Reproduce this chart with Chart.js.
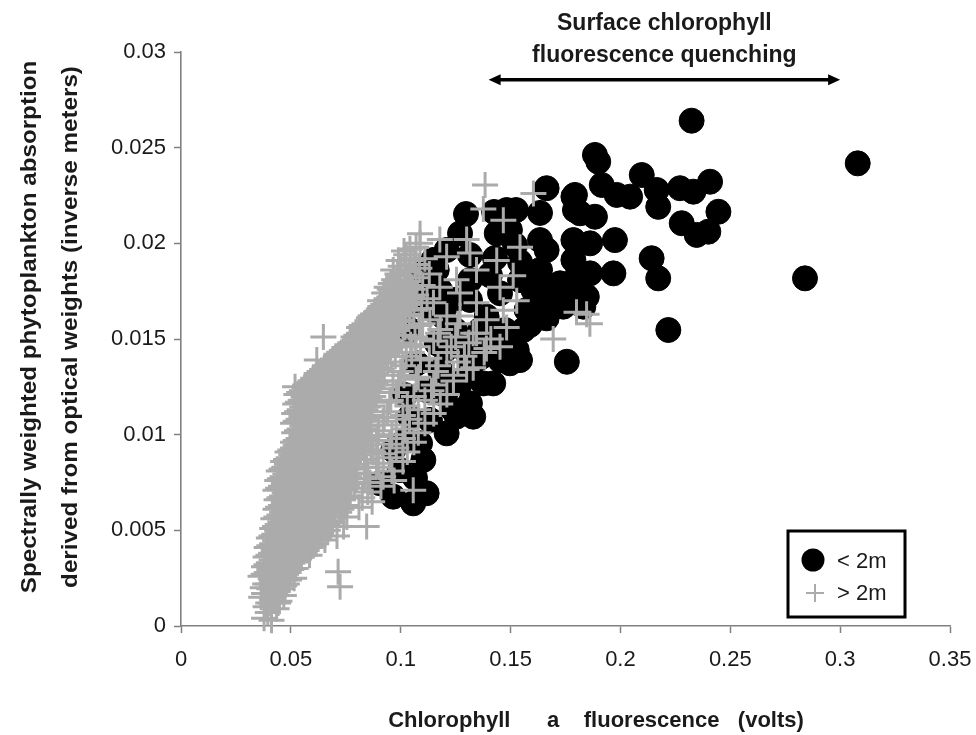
<!DOCTYPE html>
<html>
<head>
<meta charset="utf-8">
<title>Phytoplankton absorption vs chlorophyll fluorescence</title>
<script src="https://cdn.jsdelivr.net/npm/chart.js@4.4.1/dist/chart.umd.min.js"></script>
<style>
    html, body { margin: 0; padding: 0; background: #ffffff; }
    #wrap { width: 976px; height: 735px; }
</style>
</head>
<body>
<div id="wrap"><canvas id="quenchChart" width="976" height="735"></canvas></div>
<script>
// Series labels
const seriesNames = ['< 2m', '> 2m'];

// Axis titles
const xTitle = 'Chlorophyll      a    fluorescence   (volts)';
const yTitle = ['Spectrally weighted phytoplankton absorption', 'derived from optical weights (inverse meters)'];

// Annotation above the plot
const quenchText = ['Surface chlorophyll', 'fluorescence quenching'];
const quenchRange = [0.14, 0.30];
const quenchY = 0.02855;

// Axis ranges
const xRange = [0, 0.35];
const yRange = [0, 0.03];
const xStep = 0.05;
const yStep = 0.005;

// Samples shallower than 2 m: [fluorescence (volts), absorption (1/m)]
const shallow = [
    [.2324,.02641],[.308,.02418],[.1884,.02462],[.1899,.02427],[.1664,.02288],[.1793,.02253],
    [.1915,.02305],[.1983,.02253],[.2044,.02244],[.2097,.02357],[.2165,.02279],[.2172,.02191],
    [.2271,.02288],[.2332,.0227],[.2408,.02322],[.2446,.02165],[.2279,.02105],[.2347,.02044],
    [.24,.02061],[.284,.01817],[.2218,.01547],[.2142,.01922],[.2172,.01817],[.1975,.02017],
    [.1968,.01843],[.1793,.02174],[.1884,.02139],[.1786,.02017],[.1862,.02],[.1664,.01965],
    [.1786,.01913],[.1862,.01843],[.1695,.01773],[.1816,.01739],[.1831,.01669],[.1664,.01608],
    [.1634,.02159],[.1297,.02153],[.1425,.02164],[.1525,.02174],[.1497,.0207],[.1786,.02244],
    [.1816,.02157],[.127,.02052],[.1437,.02052],[.1634,.02017],[.1209,.01965],[.1103,.01843],
    [.1148,.01913],[.1725,.01791],[.1801,.01826],[.1847,.01721],[.1558,.01547],[.1528,.01443],
    [.1497,.01373],[.1391,.01443],[.1421,.01268],[.1315,.01164],[.133,.01094],[.1209,.01007],
    [.1103,.00868],[.1118,.00694],[.1057,.00641],[.0966,.00676],[.0997,.00815],[.127,.01268],
    [.1239,.01129],[.1391,.01617],[.1452,.01739],[.1315,.01704],[.1179,.01756],[.1194,.01617],
    [.1164,.01478],[.1073,.01373],[.1118,.01233],[.1042,.01094],[.1088,.00955],[.0966,.0092],
    [.0906,.00746],[.1604,.01756],[.1573,.01652],[.174,.01669],[.1756,.01381],[.1452,.0139],
    [.1543,.0139],[.1376,.01268],[.171,.01739],[.1164,.01861],[.1133,.01721],[.1073,.01687],
    [.1148,.01652],[.1482,.02174],[.1042,.01547],[.1247,.01547],[.1361,.01547],[.1475,.01547],
    [.1202,.01443],[.1293,.01443],[.1179,.01338],[.1315,.01338],[.102,.01207],[.1202,.01207],
    [.1133,.01077],[.102,.00972],[.1065,.00774],[.1247,.01704],[.1315,.01808],[.1406,.01834],
    [.1543,.01808],[.1634,.01861],[.1315,.01939],[.1429,.01923],[.1543,.01902],[.152,.01991],
    [.1656,.01704],[.1588,.01573],[.1452,.01495],[.1605,.01845],[.1365,.01405],[.1255,.01095]
];

// Samples deeper than 2 m: [fluorescence (volts), absorption (1/m)]
const deep = [
    [.0378,.0004],[.0395,.0007],[.0412,.0003],
    [.0385,.0010],[.041,.0012],[.0435,.0009],[.0448,.0013],
    [.0365,.0015],[.039,.0017],[.0415,.0014],[.044,.0018],[.0468,.0016],
    [.0372,.0020],[.0395,.0022],[.042,.0019],[.0445,.0023],[.047,.0021],[.0492,.0024],[.0724,.00205],
    [.0362,.0026],[.039,.0028],[.0415,.0025],[.044,.0029],[.0465,.0026],[.049,.0028],[.0515,.0025],
    [.0378,.0031],[.040,.0033],[.0425,.0030],[.045,.0034],[.0475,.0031],[.050,.0033],[.0522,.0030],[.0715,.00284],
    [.0385,.0036],[.041,.0038],[.0435,.0035],[.046,.0039],[.0485,.0036],[.051,.0038],[.0535,.0035],[.056,.0039],[.0585,.0037],
    [.039,.0041],[.0415,.0043],[.044,.0040],[.0465,.0044],[.049,.0041],[.0515,.0043],[.054,.0040],[.0565,.0044],[.059,.0041],[.0615,.0043],
    [.040,.0046],[.0425,.0048],[.045,.0045],[.0475,.0049],[.050,.0046],[.0525,.0048],[.055,.0045],[.0575,.0049],[.060,.0046],[.0625,.0048],[.0655,.0045],[.071,.0047],
    [.0415,.0051],[.044,.0053],[.0465,.0050],[.049,.0054],[.0515,.0051],[.054,.0053],[.0565,.0050],[.059,.0054],[.0615,.0051],[.064,.0053],[.0668,.0050],[.069,.0054],[.074,.0052],[.0845,.0052],
    [.042,.0056],[.0448,.0058],[.0472,.0055],[.0498,.0059],[.0522,.0056],[.0548,.0058],[.0572,.0055],[.060,.0059],[.0625,.0056],[.065,.0058],[.0675,.0055],[.070,.0059],[.0755,.0057],
    [.043,.0061],[.0455,.0063],[.048,.0060],[.0505,.0064],[.053,.0061],[.0555,.0063],[.058,.0060],[.0605,.0064],[.063,.0061],[.0655,.0063],[.068,.0060],[.0705,.0064],[.073,.0061],[.0755,.0063],[.081,.0062],
    [.0435,.0066],[.046,.0068],[.0485,.0065],[.051,.0069],[.0535,.0066],[.056,.0068],[.0585,.0065],[.061,.0069],[.0635,.0066],[.066,.0068],[.0685,.0065],[.071,.0069],[.0735,.0066],[.076,.0068],[.0825,.0067],[.087,.0065],
    [.043,.0071],[.0455,.0073],[.048,.0070],[.0505,.0074],[.053,.0071],[.0555,.0073],[.058,.0070],[.0605,.0074],[.063,.0071],[.0655,.0073],[.068,.0070],[.0705,.0074],[.073,.0071],[.0755,.0073],[.079,.0072],[.085,.0070],[.091,.0073],[.1057,.0071],
    [.0438,.0076],[.0462,.0078],[.0488,.0075],[.0512,.0079],[.0538,.0076],[.0562,.0078],[.0588,.0075],[.0612,.0079],[.0638,.0076],[.0662,.0078],[.0688,.0075],[.0712,.0079],[.0738,.0076],[.0765,.0078],[.080,.0077],[.086,.0075],[.092,.0078],[.097,.0076],
    [.0445,.0081],[.047,.0083],[.0495,.0080],[.052,.0084],[.0545,.0081],[.057,.0083],[.0595,.0080],[.062,.0084],[.0645,.0081],[.067,.0083],[.0695,.0080],[.072,.0084],[.0745,.0081],[.077,.0083],[.0795,.0082],[.085,.0080],[.090,.0083],[.096,.0081],
    [.0465,.0086],[.049,.0088],[.0515,.0085],[.054,.0089],[.0565,.0086],[.059,.0088],[.0615,.0085],[.064,.0089],[.0665,.0086],[.069,.0088],[.0715,.0085],[.074,.0089],[.0765,.0086],[.079,.0088],[.0835,.0087],[.089,.0085],[.095,.0088],[.101,.0086],
    [.0485,.0091],[.051,.0093],[.0535,.0090],[.056,.0094],[.0585,.0091],[.061,.0093],[.0635,.0090],[.066,.0094],[.0685,.0091],[.071,.0093],[.0735,.0090],[.076,.0094],[.0785,.0091],[.081,.0093],[.0865,.0092],[.092,.0090],[.098,.0093],[.103,.0091],
    [.051,.0096],[.0535,.0098],[.056,.0095],[.0585,.0099],[.061,.0096],[.0635,.0098],[.066,.0095],[.0685,.0099],[.071,.0096],[.0735,.0098],[.076,.0095],[.0785,.0099],[.081,.0096],[.0835,.0098],[.089,.0097],[.095,.0095],[.101,.0098],[.106,.0096],
    [.0515,.0101],[.054,.0103],[.0565,.0100],[.059,.0104],[.0615,.0101],[.064,.0103],[.0665,.0100],[.069,.0104],[.0715,.0101],[.074,.0103],[.0765,.0100],[.079,.0104],[.0815,.0101],[.084,.0103],[.090,.0102],[.096,.0100],[.102,.0103],[.108,.0101],
    [.051,.0106],[.0535,.0108],[.056,.0105],[.0585,.0109],[.061,.0106],[.0635,.0108],[.066,.0105],[.0685,.0109],[.071,.0106],[.0735,.0108],[.076,.0105],[.0785,.0109],[.081,.0106],[.0835,.0108],[.086,.0105],[.092,.0107],[.098,.0105],[.104,.0108],[.111,.0106],
    [.0515,.0111],[.054,.0113],[.0565,.0110],[.059,.0114],[.0615,.0111],[.064,.0113],[.0665,.0110],[.069,.0114],[.0715,.0111],[.074,.0113],[.0765,.0110],[.079,.0114],[.0815,.0111],[.084,.0113],[.0865,.0110],[.094,.0112],[.101,.0110],[.108,.0113],[.115,.0111],
    [.052,.0116],[.0545,.0118],[.057,.0115],[.0595,.0119],[.062,.0116],[.0645,.0118],[.067,.0115],[.0695,.0119],[.072,.0116],[.0745,.0118],[.077,.0115],[.0795,.0119],[.082,.0116],[.0845,.0118],[.087,.0115],[.095,.0117],[.103,.0115],[.111,.0118],[.118,.0116],
    [.0525,.0121],[.055,.0123],[.0575,.0120],[.060,.0124],[.0625,.0121],[.065,.0123],[.0675,.0120],[.070,.0124],[.0725,.0121],[.075,.0123],[.0775,.0120],[.080,.0124],[.0825,.0121],[.085,.0123],[.0875,.0120],[.090,.0124],[.098,.0122],[.106,.0120],[.114,.0123],[.121,.0121],
    [.0519,.0125],[.0565,.0126],[.059,.0128],[.0615,.0125],[.064,.0129],[.0665,.0126],[.069,.0128],[.0715,.0125],[.074,.0129],[.0765,.0126],[.079,.0128],[.0815,.0125],[.084,.0129],[.0865,.0126],[.091,.0128],[.099,.0126],[.107,.0129],[.115,.0126],[.124,.0128],
    [.0618,.0131],[.064,.0133],[.0665,.0130],[.069,.0134],[.0715,.0131],[.074,.0133],[.0765,.0130],[.079,.0134],[.0815,.0131],[.084,.0133],[.0865,.0130],[.089,.0134],[.0925,.0131],[.100,.0133],[.108,.0130],[.116,.0133],[.124,.0131],[.130,.0134],
    [.0655,.0136],[.068,.0138],[.0705,.0135],[.073,.0139],[.0755,.0136],[.078,.0138],[.0805,.0135],[.083,.0139],[.0855,.0136],[.088,.0138],[.0905,.0135],[.094,.0138],[.101,.0136],[.109,.0139],[.117,.0136],[.126,.0138],[.133,.0135],
    [.0618,.0139],[.0705,.0141],[.073,.0143],[.0755,.0140],[.078,.0144],[.0805,.0141],[.083,.0143],[.0855,.0140],[.088,.0144],[.0905,.0141],[.093,.0143],[.0975,.0141],[.105,.0143],[.113,.0140],[.121,.0143],[.129,.0141],[.138,.0143],
    [.0755,.0146],[.078,.0148],[.0805,.0145],[.083,.0149],[.0855,.0146],[.088,.0148],[.0905,.0145],[.093,.0149],[.0955,.0146],[.099,.0148],[.107,.0146],[.115,.0149],[.123,.0146],[.131,.0148],[.139,.0145],[.1452,.0146],
    [.0648,.0151],[.0785,.0151],[.081,.0153],[.0835,.0150],[.086,.0154],[.0885,.0151],[.091,.0153],[.0935,.0150],[.096,.0154],[.101,.0152],[.109,.0150],[.117,.0153],[.125,.0151],[.133,.0153],[.141,.0150],[.1694,.0150],
    [.081,.0156],[.0835,.0158],[.086,.0155],[.0885,.0159],[.091,.0156],[.0935,.0158],[.096,.0155],[.0985,.0159],[.102,.0156],[.110,.0158],[.118,.0155],[.126,.0158],[.1345,.0153],[.1482,.0156],
    [.0855,.0161],[.088,.0163],[.0905,.0160],[.093,.0164],[.0955,.0161],[.098,.0163],[.1005,.0160],[.104,.0163],[.1133,.0160],[.121,.0162],[.127,.0162],[.1391,.0160],[.1846,.0163],[.180,.0164],
    [.0905,.0166],[.093,.0168],[.0955,.0165],[.098,.0169],[.1005,.0166],[.103,.0168],[.106,.0165],[.1149,.0169],[.1345,.0169],[.1467,.0165],[.1861,.0158],
    [.0906,.0170],[.0935,.0171],[.096,.0173],[.0985,.0170],[.101,.0174],[.1035,.0171],[.107,.0173],[.1178,.0177],[.127,.0174],[.1528,.0170],
    [.095,.0176],[.0975,.0178],[.100,.0175],[.1025,.0179],[.1055,.0176],[.1452,.0177],
    [.0936,.0177],[.097,.0181],[.100,.0183],[.1035,.0180],[.107,.0182],[.1254,.0181],[.1345,.0186],[.1512,.0183],
    [.0966,.0186],[.100,.0188],[.104,.0185],[.1085,.0187],[.1209,.0193],[.1437,.0191],
    [.099,.0191],[.1025,.0194],[.106,.0192],[.1315,.0195],[.1543,.0198],
    [.1042,.0197],[.1088,.0200],[.1178,.0202],[.130,.0202],
    [.1088,.0205],[.1376,.0218],[.1467,.0212],[.1384,.02305],[.1604,.0226],
    [.0925,.0174],[.0955,.0179],[.099,.0177],[.1045,.0177],[.0985,.0184],[.102,.0186],[.1065,.0189],
    [.1015,.0196],[.1045,.0191],[.107,.0198],[.111,.0192],[.113,.0184],[.110,.0178],[.112,.0171],
    [.1095,.0166],[.1085,.0157],[.1065,.0151],[.1045,.0147],[.1025,.0141],[.1015,.0131],[.0965,.0128],
    [.0955,.0118],[.0925,.0109],[.0895,.0099],[.0875,.0091],[.0845,.0083],[.0835,.0077],
    // dense core, samples lying between the rows above
    [.0397,.0012],[.0422,.00145],[.0442,.0012],
    [.0378,.0017],[.0402,.00195],[.0428,.0017],[.0455,.00195],
    [.0383,.0022],[.0408,.00245],[.0432,.0022],[.0458,.00245],[.0482,.0022],
    [.0376,.0027],[.0402,.00295],[.0428,.0027],[.0452,.00295],[.0478,.0027],[.0502,.00295],
    [.0389,.0032],[.0412,.00345],[.0438,.0032],[.0462,.00345],[.0488,.0032],[.0512,.00345],
    [.0398,.0037],[.0422,.00395],[.0448,.0037],[.0472,.00395],[.0498,.0037],[.0522,.00395],[.0548,.0037],[.0572,.00395],
    [.0402,.0042],[.0428,.00445],[.0452,.0042],[.0478,.00445],[.0502,.0042],[.0528,.00445],[.0552,.0042],[.0578,.00445],[.0602,.0042],
    [.0412,.0047],[.0438,.00495],[.0462,.0047],[.0488,.00495],[.0512,.0047],[.0538,.00495],[.0562,.0047],[.0588,.00495],[.0612,.0047],[.064,.00495],
    [.0428,.0052],[.0452,.00545],[.0478,.0052],[.0502,.00545],[.0528,.0052],[.0552,.00545],[.0578,.0052],[.0602,.00545],[.0628,.0052],[.0654,.00545],[.068,.0052],
    [.0434,.0057],[.046,.00595],[.0485,.0057],[.051,.00595],[.0535,.0057],[.056,.00595],[.0586,.0057],[.0612,.00595],[.0638,.0057],[.0662,.00595],[.0688,.0057],[.072,.00595],
    [.0442,.0062],[.0468,.00645],[.0492,.0062],[.0518,.00645],[.0542,.0062],[.0568,.00645],[.0592,.0062],[.0618,.00645],[.0642,.0062],[.0668,.00645],[.0692,.0062],[.0718,.00645],[.0742,.0062],
    [.0448,.0067],[.0472,.00695],[.0498,.0067],[.0522,.00695],[.0548,.0067],[.0572,.00695],[.0598,.0067],[.0622,.00695],[.0648,.0067],[.0672,.00695],[.0698,.0067],[.0722,.00695],[.0748,.0067],
    [.0442,.0072],[.0468,.00745],[.0492,.0072],[.0518,.00745],[.0542,.0072],[.0568,.00745],[.0592,.0072],[.0618,.00745],[.0642,.0072],[.0668,.00745],[.0692,.0072],[.0718,.00745],[.0742,.0072],[.0772,.00745],
    [.045,.0077],[.0475,.00795],[.050,.0077],[.0525,.00795],[.055,.0077],[.0575,.00795],[.060,.0077],[.0625,.00795],[.065,.0077],[.0675,.00795],[.070,.0077],[.0725,.00795],[.075,.0077],[.078,.00795],
    [.0458,.0082],[.0482,.00845],[.0508,.0082],[.0532,.00845],[.0558,.0082],[.0582,.00845],[.0608,.0082],[.0632,.00845],[.0658,.0082],[.0682,.00845],[.0708,.0082],[.0732,.00845],[.0758,.0082],[.0782,.00845],
    [.0478,.0087],[.0502,.00895],[.0528,.0087],[.0552,.00895],[.0578,.0087],[.0602,.00895],[.0628,.0087],[.0652,.00895],[.0678,.0087],[.0702,.00895],[.0728,.0087],[.0752,.00895],[.0778,.0087],[.0805,.00895],
    [.0498,.0092],[.0522,.00945],[.0548,.0092],[.0572,.00945],[.0598,.0092],[.0622,.00945],[.0648,.0092],[.0672,.00945],[.0698,.0092],[.0722,.00945],[.0748,.0092],[.0772,.00945],[.0798,.0092],[.0825,.00945],
    [.0522,.0097],[.0548,.00995],[.0572,.0097],[.0598,.00995],[.0622,.0097],[.0648,.00995],[.0672,.0097],[.0698,.00995],[.0722,.0097],[.0748,.00995],[.0772,.0097],[.0798,.00995],[.0822,.0097],[.0848,.00995],
    [.0528,.0102],[.0552,.01045],[.0578,.0102],[.0602,.01045],[.0628,.0102],[.0652,.01045],[.0678,.0102],[.0702,.01045],[.0728,.0102],[.0752,.01045],[.0778,.0102],[.0802,.01045],[.0828,.0102],[.0852,.01045],
    [.0522,.0107],[.0548,.01095],[.0572,.0107],[.0598,.01095],[.0622,.0107],[.0648,.01095],[.0672,.0107],[.0698,.01095],[.0722,.0107],[.0748,.01095],[.0772,.0107],[.0798,.01095],[.0822,.0107],[.0848,.01095],
    [.0528,.0112],[.0552,.01145],[.0578,.0112],[.0602,.01145],[.0628,.0112],[.0652,.01145],[.0678,.0112],[.0702,.01145],[.0728,.0112],[.0752,.01145],[.0778,.0112],[.0802,.01145],[.0828,.0112],[.0852,.01145],
    [.0532,.0117],[.0558,.01195],[.0582,.0117],[.0608,.01195],[.0632,.0117],[.0658,.01195],[.0682,.0117],[.0708,.01195],[.0732,.0117],[.0758,.01195],[.0782,.0117],[.0808,.01195],[.0832,.0117],[.0858,.01195],
    [.0538,.0122],[.0562,.01245],[.0588,.0122],[.0612,.01245],[.0638,.0122],[.0662,.01245],[.0688,.0122],[.0712,.01245],[.0738,.0122],[.0762,.01245],[.0788,.0122],[.0812,.01245],[.0838,.0122],[.0862,.01245],[.0888,.0122],
    [.0578,.0127],[.0602,.01295],[.0628,.0127],[.0652,.01295],[.0678,.0127],[.0702,.01295],[.0728,.0127],[.0752,.01295],[.0778,.0127],[.0802,.01295],[.0828,.0127],[.0852,.01295],[.0885,.0127],
    [.0628,.0132],[.0652,.01345],[.0678,.0132],[.0702,.01345],[.0728,.0132],[.0752,.01345],[.0778,.0132],[.0802,.01345],[.0828,.0132],[.0852,.01345],[.0878,.0132],[.0905,.01345],
    [.0668,.0137],[.0692,.01395],[.0718,.0137],[.0742,.01395],[.0768,.0137],[.0792,.01395],[.0818,.0137],[.0842,.01395],[.0868,.0137],[.0892,.01395],[.0922,.0137],
    [.0718,.0142],[.0742,.01445],[.0768,.0142],[.0792,.01445],[.0818,.0142],[.0842,.01445],[.0868,.0142],[.0892,.01445],[.0918,.0142],[.0952,.01445],
    [.0768,.0147],[.0792,.01495],[.0818,.0147],[.0842,.01495],[.0868,.0147],[.0892,.01495],[.0918,.0147],[.0942,.01495],[.0972,.0147],
    [.0798,.0152],[.0822,.01545],[.0848,.0152],[.0872,.01545],[.0898,.0152],[.0922,.01545],[.0948,.0152],[.0985,.01545],
    [.0822,.0157],[.0848,.01595],[.0872,.0157],[.0898,.01595],[.0922,.0157],[.0948,.01595],[.0972,.0157],[.1002,.01595],
    [.0868,.0162],[.0892,.01645],[.0918,.0162],[.0942,.01645],[.0968,.0162],[.0992,.01645],[.1022,.0162],
    [.0918,.0167],[.0942,.01695],[.0968,.0167],[.0992,.01695],[.1018,.0167],[.1045,.01695],
    [.0948,.0172],[.0972,.01745],[.0998,.0172],[.1022,.01745],[.1052,.0172]
];

const axisGray = '#808080';
const textColor = '#1a1a1a';
const crossGray = '#ababab';
const fontFamily = '"Liberation Sans", Arial, sans-serif';

function toPoints(rows) {
    return rows.map(r => ({ x: r[0], y: r[1] }));
}

// Arrow, annotation text, axis titles and legend box
const decorations = {
    id: 'decorations',
    afterDatasetsDraw(chart) {
        const ctx = chart.ctx;
        const xs = chart.scales.x;
        const ys = chart.scales.y;
        const area = chart.chartArea;
        ctx.save();

        // double headed arrow over the quenching range
        const x1 = xs.getPixelForValue(quenchRange[0]);
        const x2 = xs.getPixelForValue(quenchRange[1]);
        const ay = ys.getPixelForValue(quenchY);
        ctx.strokeStyle = '#000';
        ctx.fillStyle = '#000';
        ctx.lineWidth = 3.5;
        ctx.beginPath();
        ctx.moveTo(x1 + 6, ay);
        ctx.lineTo(x2 - 6, ay);
        ctx.stroke();
        [[x1, 1], [x2, -1]].forEach(([px, dir]) => {
            ctx.beginPath();
            ctx.moveTo(px, ay);
            ctx.lineTo(px + dir * 12, ay - 5.5);
            ctx.lineTo(px + dir * 12, ay + 5.5);
            ctx.closePath();
            ctx.fill();
        });

        // annotation text
        ctx.fillStyle = textColor;
        ctx.font = 'bold 23px ' + fontFamily;
        ctx.textAlign = 'center';
        ctx.textBaseline = 'alphabetic';
        const cx = (x1 + x2) / 2;
        ctx.fillText(quenchText[0], cx, 30);
        ctx.fillText(quenchText[1], cx, 62);

        // x axis title
        ctx.font = 'bold 22px ' + fontFamily;
        ctx.textBaseline = 'middle';
        ctx.fillText(xTitle, 596, 721);

        // y axis title, two rotated lines
        ctx.save();
        ctx.translate(30, 327);
        ctx.rotate(-Math.PI / 2);
        ctx.scale(1.1, 1);
        ctx.fillText(yTitle[0], 0, 0);
        ctx.fillText(yTitle[1], 0, 41);
        ctx.restore();

        // legend box in the lower right corner
        const bx = area.right - 162;
        const by = area.bottom - 95;
        const bw = 117;
        const bh = 86;
        ctx.fillStyle = '#fff';
        ctx.fillRect(bx, by, bw, bh);
        ctx.lineWidth = 3;
        ctx.strokeStyle = '#000';
        ctx.strokeRect(bx, by, bw, bh);

        const ds = chart.data.datasets;
        ctx.fillStyle = ds[1].backgroundColor;
        ctx.beginPath();
        ctx.arc(bx + 25, by + 29, 11.5, 0, Math.PI * 2);
        ctx.fill();

        ctx.strokeStyle = ds[0].borderColor;
        ctx.lineWidth = 2;
        ctx.beginPath();
        ctx.moveTo(bx + 18, by + 62);
        ctx.lineTo(bx + 36, by + 62);
        ctx.moveTo(bx + 27, by + 53);
        ctx.lineTo(bx + 27, by + 71);
        ctx.stroke();

        ctx.fillStyle = textColor;
        ctx.font = '22px ' + fontFamily;
        ctx.textAlign = 'left';
        ctx.textBaseline = 'middle';
        ctx.fillText(ds[1].label, bx + 49, by + 31);
        ctx.fillText(ds[0].label, bx + 49, by + 63);

        ctx.restore();
    }
};

function makeChart() {
    const ctx = document.getElementById('quenchChart').getContext('2d');

    new Chart(ctx, {
        type: 'scatter',
        data: {
            datasets: [{
                // deep samples drawn over the shallow ones
                label: seriesNames[1],
                data: toPoints(deep),
                pointStyle: 'cross',
                pointRadius: 13,
                borderColor: crossGray,
                backgroundColor: crossGray,
                pointBorderWidth: 3,
                clip: false,
                order: 0
            }, {
                label: seriesNames[0],
                data: toPoints(shallow),
                pointStyle: 'circle',
                pointRadius: 12.5,
                borderColor: '#000',
                backgroundColor: '#000',
                pointBorderWidth: 1,
                clip: false,
                order: 1
            }]
        },
        options: {
            responsive: false,
            animation: false,
            events: [],
            layout: {
                padding: { left: 0, right: 26, top: 52, bottom: 0 }
            },
            plugins: {
                legend: { display: false },
                tooltip: { enabled: false }
            },
            scales: {
                x: {
                    type: 'linear',
                    min: xRange[0],
                    max: xRange[1],
                    afterFit: s => {
                        s.height = 109;
                        s.paddingLeft = 0;
                        s.paddingRight = 0;
                    },
                    ticks: {
                        stepSize: xStep,
                        padding: 14,
                        color: textColor,
                        font: { family: fontFamily, size: 22 },
                        maxRotation: 0,
                        callback: v => String(+v.toFixed(2))
                    },
                    grid: { drawOnChartArea: false, drawTicks: true, tickLength: 7, tickColor: axisGray, tickWidth: 1.5 },
                    border: { color: axisGray, width: 1.6 }
                },
                y: {
                    type: 'linear',
                    min: yRange[0],
                    max: yRange[1],
                    afterFit: s => {
                        s.width = 181;
                        s.paddingTop = 0;
                        s.paddingBottom = 0;
                    },
                    ticks: {
                        stepSize: yStep,
                        padding: 8,
                        color: textColor,
                        font: { family: fontFamily, size: 22 },
                        callback: v => String(+v.toFixed(3))
                    },
                    grid: { drawOnChartArea: false, drawTicks: true, tickLength: 7, tickColor: axisGray, tickWidth: 1.5 },
                    border: { color: axisGray, width: 1.6 }
                }
            }
        },
        plugins: [decorations]
    });
}

makeChart();
</script>
</body>
</html>
